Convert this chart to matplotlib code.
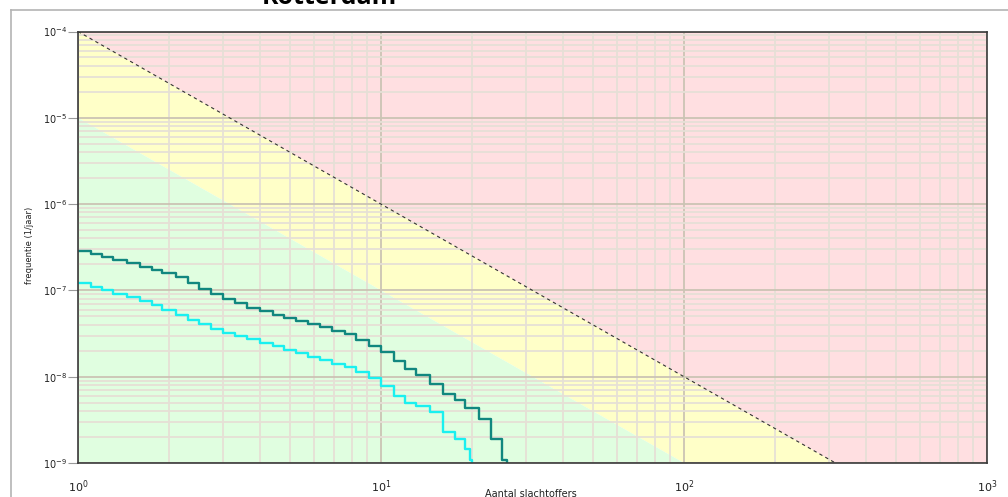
import matplotlib
matplotlib.use("Agg")
import matplotlib.pyplot as plt
from matplotlib.ticker import LogLocator, NullFormatter

# normlijnen (groepsrisico): 10^-4/N^2 en 10^-5/N^2
norm_N = [1, 1000]
norm_upper = [1e-4, 1e-10]
norm_lower = [1e-5, 1e-11]

# fN curve 1 (donker)
N_dark = [1.0, 1.1, 1.2, 1.3, 1.45, 1.6, 1.75, 1.9, 2.1, 2.3, 2.5, 2.75, 3.0, 3.3, 3.6,
          4.0, 4.4, 4.8, 5.25, 5.75, 6.3, 6.9, 7.6, 8.3, 9.1, 10, 11, 12, 13, 14.5,
          16, 17.5, 19, 21, 23, 25, 26]
f_dark = [2.88e-7, 2.65e-7, 2.43e-7, 2.23e-7, 2.05e-7, 1.88e-7, 1.73e-7, 1.58e-7, 1.42e-7,
          1.22e-7, 1.05e-7, 9.1e-8, 7.9e-8, 7.1e-8, 6.3e-8, 5.7e-8, 5.2e-8, 4.8e-8, 4.4e-8,
          4.1e-8, 3.75e-8, 3.4e-8, 3.1e-8, 2.66e-8, 2.26e-8, 1.91e-8, 1.52e-8, 1.22e-8,
          1.04e-8, 8.3e-9, 6.3e-9, 5.3e-9, 4.3e-9, 3.2e-9, 1.9e-9, 1.07e-9, 1e-10]

# fN curve 2 (cyaan)
N_cyan = [1.0, 1.1, 1.2, 1.3, 1.45, 1.6, 1.75, 1.9, 2.1, 2.3, 2.5, 2.75, 3.0, 3.3, 3.6,
          4.0, 4.4, 4.8, 5.25, 5.75, 6.3, 6.9, 7.6, 8.3, 9.1, 10, 11, 12, 13, 14.5,
          16, 17.5, 19, 19.6, 20]
f_cyan = [1.21e-7, 1.10e-7, 1.0e-7, 9.2e-8, 8.4e-8, 7.6e-8, 6.7e-8, 5.9e-8, 5.2e-8, 4.6e-8,
          4.07e-8, 3.6e-8, 3.24e-8, 2.96e-8, 2.7e-8, 2.47e-8, 2.25e-8, 2.05e-8, 1.87e-8,
          1.71e-8, 1.56e-8, 1.41e-8, 1.28e-8, 1.12e-8, 9.6e-9, 7.8e-9, 6.0e-9, 4.95e-9,
          4.57e-9, 3.95e-9, 2.28e-9, 1.9e-9, 1.45e-9, 1.08e-9, 1e-10]

fig = plt.figure(figsize=(10.08, 4.97), dpi=100)
ax = fig.add_axes([78 / 1008, 34 / 497, 909 / 1008, 431.5 / 497])
ax.set_xscale("log")
ax.set_yscale("log")
ax.set_xlim(1, 1000)
ax.set_ylim(1e-9, 1e-4)

# achtergrondvlakken
ax.fill_between(norm_N, norm_upper, [1, 1], color="#ffdfe1", lw=0)
ax.fill_between(norm_N, norm_lower, norm_upper, color="#ffffc8", lw=0)
ax.fill_between(norm_N, [1e-14, 1e-14], norm_lower, color="#e0fee0", lw=0)

# grid
ax.xaxis.set_minor_locator(LogLocator(base=10, subs=range(2, 10)))
ax.yaxis.set_minor_locator(LogLocator(base=10, subs=range(2, 10)))
ax.xaxis.set_minor_formatter(NullFormatter())
ax.yaxis.set_minor_formatter(NullFormatter())
ax.grid(which="minor", color="#e6e0d6", lw=1.3)
ax.grid(which="major", color="#cbc4b4", lw=1.3)

ax.plot(norm_N, norm_upper, color="#333333", lw=0.8, dashes=(3, 3))
ax.plot(N_dark, f_dark, drawstyle="steps-post", color="#11877f", lw=1.7)
ax.plot(N_cyan, f_cyan, drawstyle="steps-post", color="#1af0f0", lw=1.7)

for s in ax.spines.values():
    s.set_color("#3a3a3a")
    s.set_linewidth(1.2)

ax.set_xticks([1, 10, 100, 1000])
ax.set_xticklabels([r"$10^0$", r"$10^1$", r"$10^2$", r"$10^3$"])
ax.set_yticks([1e-9, 1e-8, 1e-7, 1e-6, 1e-5, 1e-4])
ax.set_yticklabels([r"$10^{-9}$", r"$10^{-8}$", r"$10^{-7}$", r"$10^{-6}$",
                    r"$10^{-5}$", r"$10^{-4}$"])
ax.tick_params(axis="x", which="both", length=0, pad=11, labelsize=8, labelcolor="#222222")
ax.tick_params(axis="y", which="major", length=7, width=0.8, color="#999999",
               pad=1, labelsize=7, labelcolor="#222222")
ax.tick_params(axis="y", which="minor", length=0)

fig.text(30 / 1008, 1 - 245 / 497, "frequentie (1/jaar)", rotation=90,
         ha="center", va="center", fontsize=6, color="#222222")
fig.text(531 / 1008, 1 - 494 / 497, "Aantal slachtoffers", ha="center", va="center",
         fontsize=7, color="#222222")
fig.text(329 / 1008, 1 - 3.5 / 497, "Rotterdam", ha="center", va="baseline",
         fontsize=18, fontweight="bold", family="Open Sans")

# kader rond de figuur
fig.add_artist(plt.Line2D([10.5 / 1008, 10.5 / 1008], [0, 1 - 9.5 / 497],
                          transform=fig.transFigure, color="#b4b4b4", lw=1.2))
fig.add_artist(plt.Line2D([10.5 / 1008, 1], [1 - 9.5 / 497, 1 - 9.5 / 497],
                          transform=fig.transFigure, color="#b4b4b4", lw=1.2))

fig.savefig("out.png", dpi=100)
